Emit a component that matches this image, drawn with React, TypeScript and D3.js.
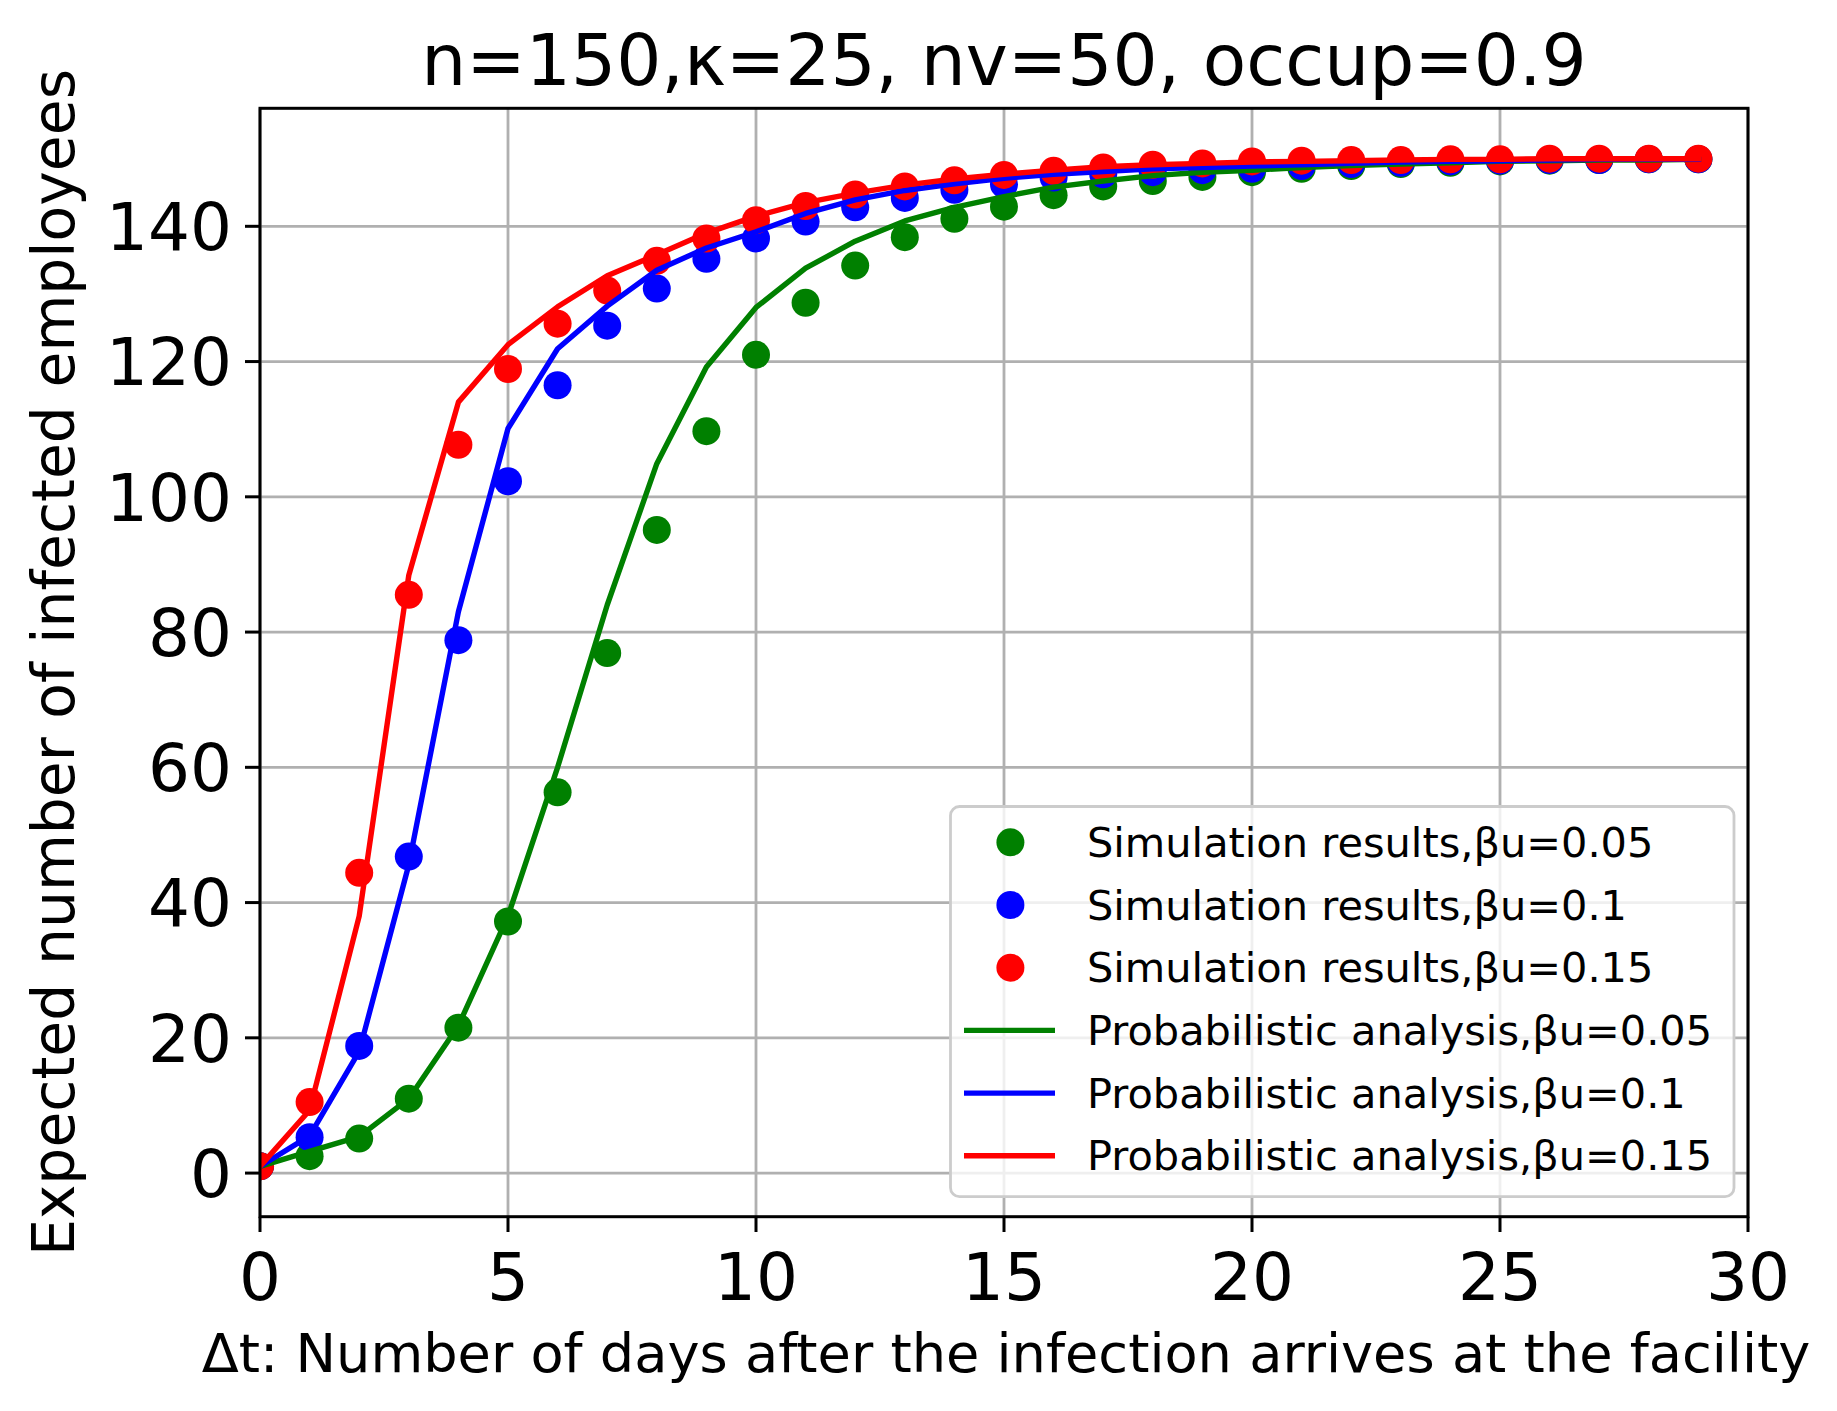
import React from "react";
import * as d3 from "d3";

const days = d3.range(0, 30);

const simLow = [1, 2.5, 5.1, 11.0, 21.5, 37.2, 56.3, 76.9, 95.1, 109.7, 121.0, 128.7, 134.2, 138.4, 141.1, 142.9, 144.6, 145.9, 146.7, 147.3, 148.0, 148.5, 148.9, 149.2, 149.4, 149.6, 149.7, 149.8, 149.9, 149.9];
const simMid = [1, 5.3, 18.8, 46.8, 78.8, 102.3, 116.5, 125.3, 130.8, 135.2, 138.2, 140.7, 142.8, 144.2, 145.4, 146.2, 147.2, 147.7, 148.0, 148.3, 148.5, 148.9, 149.2, 149.4, 149.6, 149.7, 149.8, 149.8, 149.9, 149.9];
const simHigh = [1, 10.5, 44.4, 85.5, 107.7, 118.9, 125.6, 130.5, 134.9, 138.2, 140.9, 143.0, 144.7, 145.9, 146.8, 147.6, 148.2, 148.7, 149.1, 149.3, 149.6, 149.7, 149.8, 149.8, 149.9, 149.9, 150, 150, 150, 150];

const probLow = [1, 3.2, 5.4, 11.0, 21.8, 38.0, 60.0, 84.0, 104.9, 119.2, 128.0, 133.8, 137.8, 140.8, 142.8, 144.4, 145.8, 146.7, 147.5, 148.0, 148.3, 148.7, 149.0, 149.2, 149.4, 149.6, 149.7, 149.8, 149.8, 149.9];
const probMid = [1, 5.5, 18.0, 45.6, 83.0, 110.1, 121.9, 128.2, 133.5, 136.8, 139.2, 141.9, 143.9, 145.3, 146.3, 147.1, 147.7, 148.1, 148.5, 148.7, 148.9, 149.1, 149.3, 149.5, 149.6, 149.7, 149.8, 149.9, 149.9, 149.9];
const probHigh = [1, 9.3, 38.0, 88.4, 114.0, 122.5, 128.1, 132.7, 135.8, 139.0, 141.5, 143.5, 144.9, 146.1, 147.0, 147.7, 148.3, 148.8, 149.1, 149.3, 149.5, 149.6, 149.7, 149.8, 149.9, 149.9, 150, 150, 150, 150];

const xTicks = [0, 5, 10, 15, 20, 25, 30];
const yTicks = [0, 20, 40, 60, 80, 100, 120, 140];

const colors = ["#008000", "#0000ff", "#ff0000"];
const betas = ["0.05", "0.1", "0.15"];

const W = 1837;
const H = 1411;
const font = "'DejaVu Sans', sans-serif";

export default function App() {
	const x = d3.scaleLinear().domain([0, 30]).range([260, 1748]);
	const y = d3.scaleLinear().domain([-6.45, 157.45]).range([1216.7, 108.3]);

	const line = d3
		.line<number>()
		.x((d, i) => x(days[i]))
		.y((d) => y(d));

	const sims = [simLow, simMid, simHigh];
	const probs = [probLow, probMid, probHigh];

	const legendX = 950.5;
	const legendY = 806.5;
	const rowH = 62.7;
	const legendItems = [
		...betas.map((b, i) => ({ label: `Simulation results,βu=${b}`, color: colors[i], kind: "dot" })),
		...betas.map((b, i) => ({ label: `Probabilistic analysis,βu=${b}`, color: colors[i], kind: "line" })),
	];

	return (
		<svg
			width={W}
			height={H}
			style={{ position: "absolute", left: 0, top: 0, background: "#fff" }}
			fontFamily={font}
		>
			<rect x={0} y={0} width={W} height={H} fill="#fff" />
			<defs>
				<clipPath id="plotArea">
					<rect x={260} y={108.3} width={1488} height={1108.4} />
				</clipPath>
			</defs>

			{/* grid */}
			<g stroke="#b0b0b0" strokeWidth={2.8}>
				{xTicks.map((t) => (
					<line key={"gx" + t} x1={x(t)} x2={x(t)} y1={y.range()[0]} y2={y.range()[1]} />
				))}
				{yTicks.map((t) => (
					<line key={"gy" + t} x1={260} x2={1748} y1={y(t)} y2={y(t)} />
				))}
			</g>

			<g clipPath="url(#plotArea)">
				{/* simulation markers */}
				{sims.map((s, k) => (
					<g key={"s" + k} fill={colors[k]}>
						{s.map((v, i) => (
							<circle key={i} cx={x(days[i])} cy={y(v)} r={14} />
						))}
					</g>
				))}
				{/* probabilistic analysis lines */}
				{probs.map((p, k) => (
					<path key={"p" + k} d={line(p) || ""} fill="none" stroke={colors[k]} strokeWidth={5.4} strokeLinejoin="round" strokeLinecap="square" />
				))}
			</g>

			{/* spines */}
			<rect x={260} y={108.3} width={1488} height={1108.4} fill="none" stroke="#000" strokeWidth={3} />

			{/* x ticks */}
			<g>
				{xTicks.map((t) => (
					<g key={"xt" + t}>
						<line x1={x(t)} x2={x(t)} y1={1216.7} y2={1232} stroke="#000" strokeWidth={3} />
						<text x={x(t)} y={1300} fontSize={66} textAnchor="middle" fill="#000">
							{t}
						</text>
					</g>
				))}
			</g>

			{/* y ticks */}
			<g>
				{yTicks.map((t) => (
					<g key={"yt" + t}>
						<line x1={245} x2={260} y1={y(t)} y2={y(t)} stroke="#000" strokeWidth={3} />
						<text x={232} y={y(t)} dy="0.36em" fontSize={66} textAnchor="end" fill="#000">
							{t}
						</text>
					</g>
				))}
			</g>

			{/* title */}
			<text x={1004} y={85} fontSize={71} textAnchor="middle" fill="#000">
				n=150,κ=25, nv=50, occup=0.9
			</text>

			{/* axis labels */}
			<text x={1006} y={1372} fontSize={54.2} textAnchor="middle" fill="#000">
				Δt: Number of days after the infection arrives at the facility
			</text>
			<text transform={`translate(74,662.5) rotate(-90)`} fontSize={58.4} textAnchor="middle" fill="#000">
				Expected number of infected employees
			</text>

			{/* legend */}
			<rect
				x={legendX}
				y={legendY}
				width={1734 - legendX}
				height={1196.7 - legendY}
				rx={9}
				fill="#fff"
				fillOpacity={0.8}
				stroke="#cccccc"
				strokeWidth={2.8}
			/>
			{legendItems.map((item, i) => {
				const cy = 842.3 + i * rowH;
				return (
					<g key={"lg" + i}>
						{item.kind === "dot" ? (
							<circle cx={1010.4} cy={cy} r={14} fill={item.color} />
						) : (
							<line x1={964} x2={1055} y1={cy} y2={cy} stroke={item.color} strokeWidth={5.4} />
						)}
						<text x={1087} y={cy + 14.5} fontSize={41.5} fill="#000">
							{item.label}
						</text>
					</g>
				);
			})}
		</svg>
	);
}
